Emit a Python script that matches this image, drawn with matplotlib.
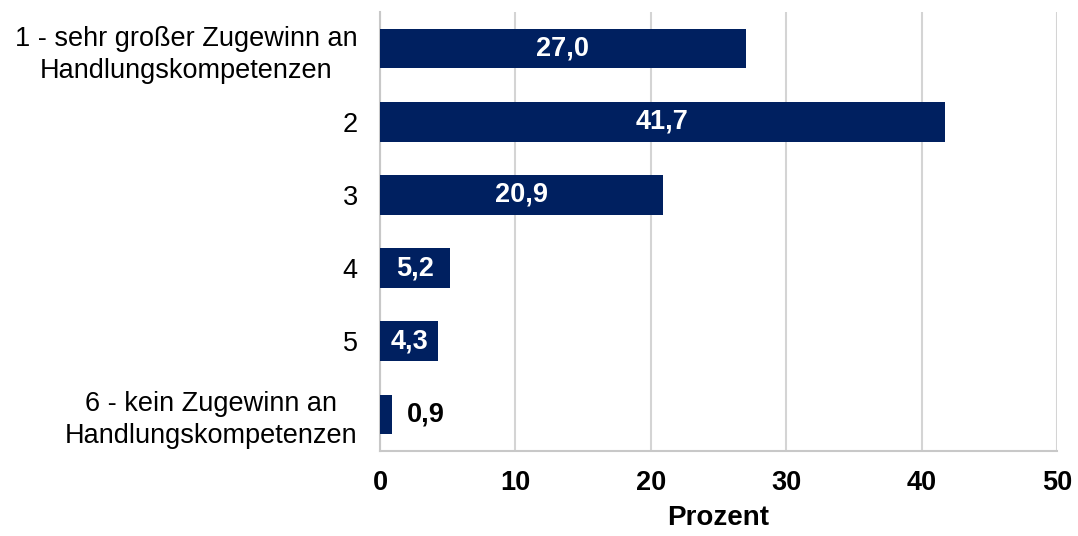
import matplotlib.pyplot as plt

plt.rcParams['font.family'] = ['Liberation Sans', 'DejaVu Sans']

categories = ["1 - sehr großer Zugewinn an\nHandlungskompetenzen", "2", "3", "4", "5",
              "6 - kein Zugewinn an\nHandlungskompetenzen"]
values = [27.0, 41.7, 20.9, 5.2, 4.3, 0.9]
xticks = [0, 10, 20, 30, 40, 50]

navy = "#002060"
fs = 19.5

fig = plt.figure(figsize=(10.78, 5.36), dpi=100)
ax = fig.add_axes([0.3525, 0.1586, 0.628, 0.819])

y = list(range(len(values)))
bars = ax.barh(y, values, height=0.54, color=navy, zorder=3)
ax.set_ylim(len(values) - 0.5, -0.5)
ax.set_xlim(0, 50)

for rect, v in zip(bars, values):
    txt = f"{v:.1f}".replace(".", ",")
    cy = rect.get_y() + rect.get_height() / 2
    if v >= 3:
        ax.text(v / 2, cy, txt, ha="center", va="center", color="white",
                fontsize=fs, fontweight="bold", zorder=4)
    else:
        ax.text(v + 1.1, cy, txt, ha="left", va="center", color="black",
                fontsize=fs, fontweight="bold", zorder=4)

ax.set_yticks(y)
ax.set_yticklabels(categories, fontsize=fs, ha="right", multialignment="center",
                   linespacing=1.3)
ax.set_xticks(xticks)
ax.set_xticklabels([str(t) for t in xticks], fontsize=fs, fontweight="bold")
ax.tick_params(axis="y", length=0, pad=16)
ax.tick_params(axis="x", length=0, pad=14)
ax.set_xlabel("Prozent", fontsize=fs + 0.5, fontweight="bold", labelpad=6)

ax.grid(axis="x", color="#d4d4d4", linewidth=1.5, zorder=0)
for side in ["top", "right"]:
    ax.spines[side].set_visible(False)
for side in ["left", "bottom"]:
    ax.spines[side].set_color("#c8c8c8")
    ax.spines[side].set_linewidth(1.5)

fig.savefig("out.png", dpi=100)
